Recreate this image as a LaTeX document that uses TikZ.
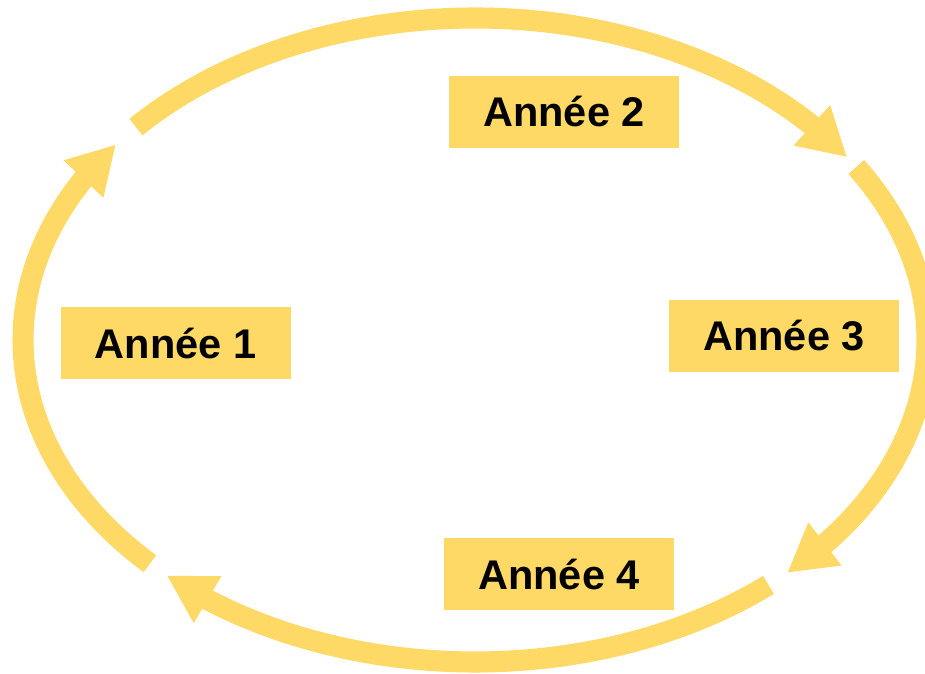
\documentclass[tikz,border=0pt]{standalone}
\usepackage{fontspec}
\setmainfont{Liberation Sans}
\usetikzlibrary{arrows.meta,bending}
\definecolor{gold}{HTML}{FFD966}
\tikzstyle{yearbox}=[fill=gold,minimum width=2.3cm,minimum height=0.72cm,inner sep=0pt,font=\bfseries\fontsize{11.8}{14}\selectfont]
\tikzstyle{cyclearc}=[draw=gold,line width=6pt,-{Triangle[length=13.5pt,width=14.5pt]}]

\begin{document}
\begin{tikzpicture}
    \useasboundingbox (0,0) rectangle (9.25,6.73);
    \coordinate (o) at (4.75,3.33);

    % year labels
    \foreach \pos/ \name/ \num in {{(1.755,3.30)/y1/1}, {(5.64,5.61)/y2/2}, {(7.84,3.37)/y3/3}, {(5.59,0.99)/y4/4}}
        \node[yearbox] (\name) at \pos {Année \num};

    % arcs of the cycle, clockwise
    \foreach \from/ \to in {224/142.6, 138.6/34.6, 32.5/-46.3, -49.5/-133}
        \draw[cyclearc] (o) ++(\from:4.52 and 3.22) arc[start angle=\from, end angle=\to, x radius=4.52, y radius=3.22];

\end{tikzpicture}
\end{document}
